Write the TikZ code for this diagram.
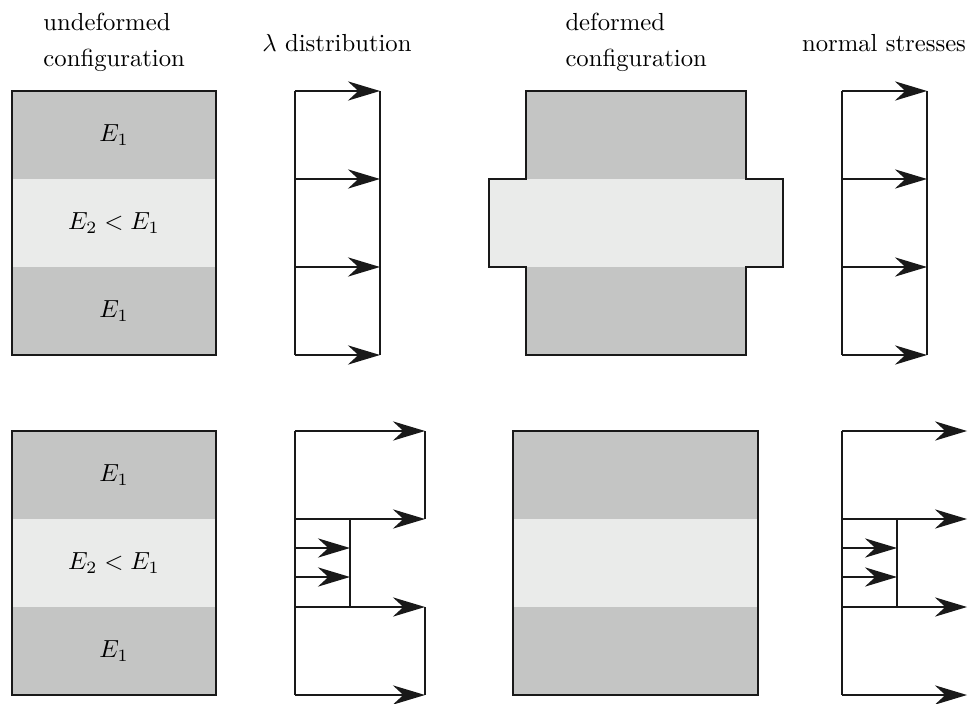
\documentclass[tikz,border=0pt]{standalone}
\usetikzlibrary{arrows.meta}
\definecolor{stiffgray}{HTML}{C4C5C4}
\definecolor{softgray}{HTML}{EAEBEA}
\tikzset{
  band/.style={fill=#1, minimum width=82.6pt, minimum height=35.6pt, inner sep=0pt, outer sep=0pt},
  outline/.style={line width=0.85pt, draw=black!90},
  force/.style={-{Stealth[length=13pt,width=7.8pt]}, line width=0.85pt, draw=black!90},
  heading/.style={align=left, anchor=north west, inner sep=0pt}
}
\begin{document}
\begin{tikzpicture}[x=0.405pt, y=-0.405pt]
\useasboundingbox (0,0) rectangle (968,704);
\node[heading] (t1) at (43,13) {undeformed\\[2.3pt]configuration};
\node[anchor=base, inner sep=0pt] (t2) at (337,52) {$\lambda$ distribution};
\node[heading] (t3) at (565,13) {deformed\\[2.3pt]configuration};
\node[anchor=base, inner sep=0pt] (t4) at (884,52) {normal stresses};
\node[band=stiffgray] (u1) at (114,135) {$E_1$};
\node[band=softgray] (u2) at (114,223) {$E_2 < E_1$};
\node[band=stiffgray] (u3) at (114,311) {$E_1$};
\draw[outline] (u1.north west) rectangle (u3.south east);
\node[band=stiffgray] (v1) at (114,475) {$E_1$};
\node[band=softgray] (v2) at (114,563) {$E_2 < E_1$};
\node[band=stiffgray] (v3) at (114,651) {$E_1$};
\draw[outline] (v1.north west) rectangle (v3.south east);
\fill[stiffgray] (526,91) rectangle (746,179);
\fill[softgray] (489,179) rectangle (783,267);
\fill[stiffgray] (526,267) rectangle (746,355);
\draw[outline] (526,91) -- (746,91) -- (746,179) -- (783,179) -- (783,267) -- (746,267) -- (746,355) -- (526,355) -- (526,267) -- (489,267) -- (489,179) -- (526,179) -- cycle;
\fill[stiffgray] (513,431) rectangle (758,519);
\fill[softgray] (513,519) rectangle (758,607);
\fill[stiffgray] (513,607) rectangle (758,695);
\draw[outline] (513,431) rectangle (758,695);
\coordinate (l1a) at (295,91);  \coordinate (l1b) at (380,91);
\coordinate (l2a) at (295,179); \coordinate (l2b) at (380,179);
\coordinate (l3a) at (295,267); \coordinate (l3b) at (380,267);
\coordinate (l4a) at (295,355); \coordinate (l4b) at (380,355);
\path (l1a) edge[outline] (l4a);
\path (l1b) edge[outline] (l4b);
\path (l1a) edge[force] (l1b);
\path (l2a) edge[force] (l2b);
\path (l3a) edge[force] (l3b);
\path (l4a) edge[force] (l4b);
\coordinate (s1a) at (842,91);  \coordinate (s1b) at (927,91);
\coordinate (s2a) at (842,179); \coordinate (s2b) at (927,179);
\coordinate (s3a) at (842,267); \coordinate (s3b) at (927,267);
\coordinate (s4a) at (842,355); \coordinate (s4b) at (927,355);
\path (s1a) edge[outline] (s4a);
\path (s1b) edge[outline] (s4b);
\path (s1a) edge[force] (s1b);
\path (s2a) edge[force] (s2b);
\path (s3a) edge[force] (s3b);
\path (s4a) edge[force] (s4b);
\coordinate (m1a) at (295,431); \coordinate (m1b) at (425,431);
\coordinate (m2a) at (295,519); \coordinate (m2b) at (425,519);
\coordinate (m3a) at (295,607); \coordinate (m3b) at (425,607);
\coordinate (m4a) at (295,695); \coordinate (m4b) at (425,695);
\coordinate (m5a) at (295,548); \coordinate (m5b) at (350,548);
\coordinate (m6a) at (295,577); \coordinate (m6b) at (350,577);
\coordinate (m7a) at (350,519); \coordinate (m7b) at (350,607);
\path (m1a) edge[outline] (m4a);
\path (m1b) edge[outline] (m2b);
\path (m3b) edge[outline] (m4b);
\path (m7a) edge[outline] (m7b);
\path (m1a) edge[force] (m1b);
\path (m2a) edge[force] (m2b);
\path (m3a) edge[force] (m3b);
\path (m4a) edge[force] (m4b);
\path (m5a) edge[force] (m5b);
\path (m6a) edge[force] (m6b);
\coordinate (n1a) at (842,431); \coordinate (n1b) at (967,431);
\coordinate (n2a) at (842,519); \coordinate (n2b) at (967,519);
\coordinate (n3a) at (842,607); \coordinate (n3b) at (967,607);
\coordinate (n4a) at (842,695); \coordinate (n4b) at (967,695);
\coordinate (n5a) at (842,548); \coordinate (n5b) at (897,548);
\coordinate (n6a) at (842,577); \coordinate (n6b) at (897,577);
\coordinate (n7a) at (897,519); \coordinate (n7b) at (897,607);
\path (n1a) edge[outline] (n4a);
\path (n7a) edge[outline] (n7b);
\path (n1a) edge[force] (n1b);
\path (n2a) edge[force] (n2b);
\path (n3a) edge[force] (n3b);
\path (n4a) edge[force] (n4b);
\path (n5a) edge[force] (n5b);
\path (n6a) edge[force] (n6b);
\end{tikzpicture}
\end{document}
